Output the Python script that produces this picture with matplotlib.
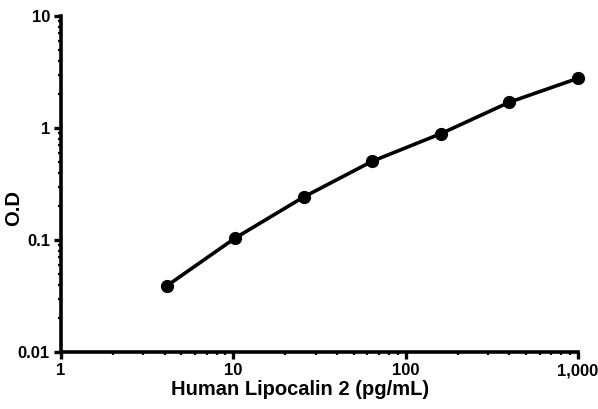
import matplotlib
matplotlib.use("Agg")
import matplotlib.pyplot as plt
from matplotlib.ticker import FixedLocator, FixedFormatter, LogLocator, NullFormatter

# Standard curve values
concentration = [4.096, 10.24, 25.6, 64, 160, 400, 1000]
od = [0.0388, 0.104, 0.242, 0.505, 0.89, 1.70, 2.78]

x_ticks = [1, 10, 100, 1000]
x_labels = ["1", "10", "100", "1,000"]
y_ticks = [0.01, 0.1, 1, 10]
y_labels = ["0.01", "0.1", "1", "10"]

plt.rcParams['font.family'] = ['Liberation Sans', 'DejaVu Sans']
plt.rcParams['font.weight'] = 'bold'

fig = plt.figure(figsize=(5.98, 4.09), dpi=100)
ax = fig.add_axes([0.102, 0.1394, 0.8646, 0.8215])

ax.plot(concentration, od, color="black", linewidth=2.6, marker="o",
        markersize=8.5, solid_capstyle="round", solid_joinstyle="round",
        clip_on=False)

ax.set_xscale("log")
ax.set_yscale("log")
ax.set_xlim(1, 1000)
ax.set_ylim(0.01, 10)

ax.xaxis.set_major_locator(FixedLocator(x_ticks))
ax.xaxis.set_major_formatter(FixedFormatter(x_labels))
ax.yaxis.set_major_locator(FixedLocator(y_ticks))
ax.yaxis.set_major_formatter(FixedFormatter(y_labels))
ax.xaxis.set_minor_locator(LogLocator(base=10, subs=range(2, 10)))
ax.yaxis.set_minor_locator(LogLocator(base=10, subs=range(2, 10)))
ax.xaxis.set_minor_formatter(NullFormatter())
ax.yaxis.set_minor_formatter(NullFormatter())

for side in ["top", "right"]:
    ax.spines[side].set_visible(False)
for side in ["left", "bottom"]:
    ax.spines[side].set_linewidth(2.6)

ax.tick_params(which="major", direction="out", length=5, width=2.4,
               labelsize=12, pad=3)
ax.tick_params(which="minor", direction="out", length=2.5, width=1.6)

ax.set_xlabel("Human Lipocalin 2 (pg/mL)", fontsize=14.5, fontweight="bold")
ax.set_ylabel("O.D", fontsize=14.5, fontweight="bold")
ax.xaxis.set_label_coords(0.462, -0.113)
ax.xaxis.label.set_va("center")
ax.yaxis.set_label_coords(-0.091, 0.43)
ax.yaxis.label.set_va("center")

fig.savefig("out.png", dpi=100)
